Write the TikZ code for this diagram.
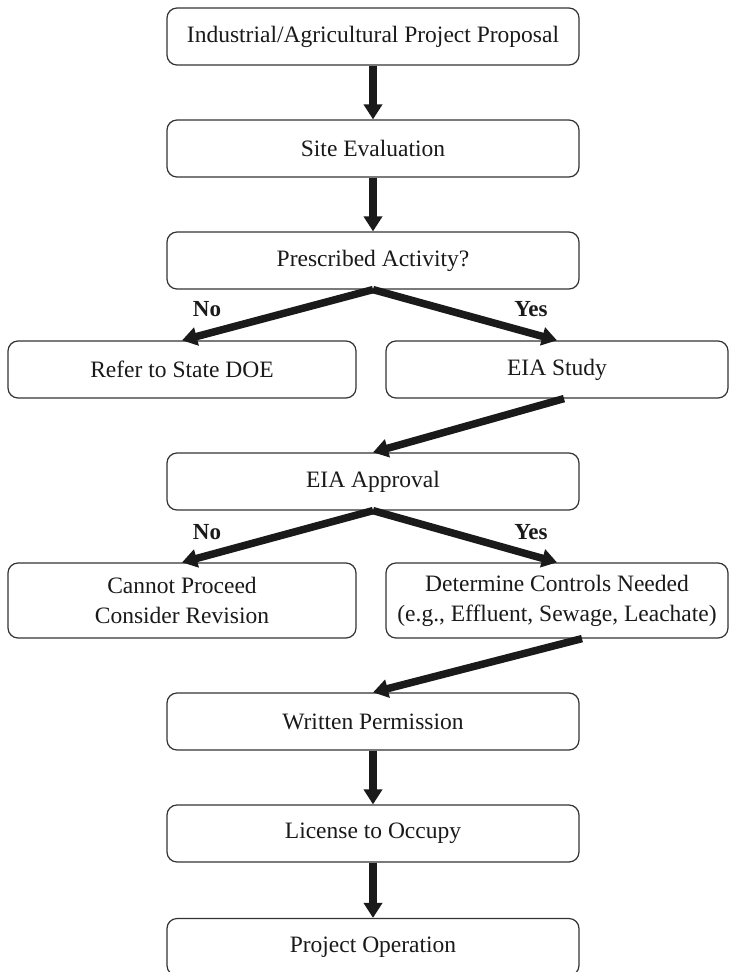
\documentclass[tikz,border=0pt]{standalone}
\usepackage{fontspec}
\setmainfont{Liberation Serif}
\usetikzlibrary{arrows.meta,positioning}
\definecolor{ink}{HTML}{1A1A1A}
\definecolor{edge}{HTML}{333333}
\tikzset{
  box/.style={draw=edge, line width=1.2pt, rounded corners=10pt, align=center,
    font=\fontsize{23.5}{30}\selectfont, text=ink, inner sep=0pt},
  midbox/.style={box, minimum width=412pt, minimum height=57pt},
  sidebox/.style={box, minimum width=348pt, minimum height=57pt},
  tallbox/.style={box, minimum width=348pt, minimum height=75pt},
  flow/.style={draw=ink, line width=7.5pt, -{Triangle[width=18pt,length=15pt]}},
  lbl/.style={font=\bfseries\fontsize{23}{27}\selectfont, text=ink}
}
\begin{document}
\begin{tikzpicture}[x=1pt,y=-1pt]
\useasboundingbox (0,0) rectangle (729,972);
\fill[white] (0,0) rectangle (729,972);
\node[midbox] (prop) at (373,36.5) {Industrial/Agricultural Project Proposal};
\node[midbox] (site) at (373,148.5) {Site Evaluation};
\node[midbox] (presc) at (373,260.5) {Prescribed Activity?};
\node[sidebox] (refer) at (182,369.5) {Refer to State DOE};
\node[box, minimum width=342pt, minimum height=57pt] (eia) at (557,369.5) {EIA Study};
\node[midbox] (appr) at (373,481.5) {EIA Approval};
\node[tallbox] (cannot) at (182,600.5) {Cannot Proceed\\Consider Revision};
\node[box, minimum width=342pt, minimum height=75pt] (det) at (557,600.5) {Determine Controls Needed\\(e.g., Effluent, Sewage, Leachate)};
\node[midbox] (writ) at (373,721.5) {Written Permission};
\node[midbox] (lic) at (373,833.5) {License to Occupy};
\node[midbox] (oper) at (373,947) {Project Operation};

\draw[flow] (prop.south) -- (site.north);
\draw[flow] (site.south) -- (presc.north);
\draw[flow] (presc.south) -- (refer.north);
\draw[flow] (presc.south) -- (eia.north);
\draw[flow] ([xshift=7pt]eia.south) -- (appr.north);
\draw[flow] (appr.south) -- (cannot.north);
\draw[flow] (appr.south) -- (det.north);
\draw[flow] ([xshift=25pt]det.south) -- (writ.north);
\draw[flow] (writ.south) -- (lic.north);
\draw[flow] (lic.south) -- (oper.north);

\node[lbl] (no1) at (207,309) {No};
\node[lbl] (yes1) at (531,309) {Yes};
\node[lbl] (no2) at (207,532) {No};
\node[lbl] (yes2) at (531,532) {Yes};
\end{tikzpicture}
\end{document}
